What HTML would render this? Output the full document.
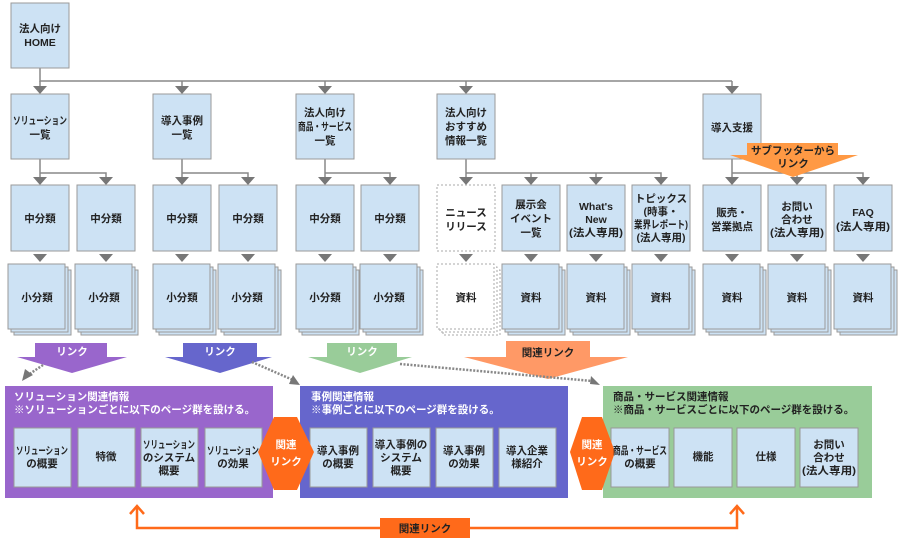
<!DOCTYPE html>
<html><head><meta charset="utf-8"><style>
body{margin:0;background:#fff}
svg text{font-family:"Liberation Sans","Noto Sans CJK JP",sans-serif;font-weight:bold;font-size:10.5px;text-anchor:middle;fill:#222}
</style></head><body>
<svg width="900" height="544" xmlns="http://www.w3.org/2000/svg">
<g stroke="#888" stroke-width="1.5" fill="none">
<path d="M40 68V81H732"/>
<path d="M40 81V86M182 81V86M325 81V86M466 81V86M732 81V86"/>
<path d="M40 159V173H106V177M40 173V177"/>
<path d="M182 159V173H248V177M182 173V177"/>
<path d="M325 159V173H390V177M325 173V177"/>
<path d="M466 159V173H661V177M466 173V177M531 173V177M596 173V177"/>
<path d="M732 159V173H863V177M732 173V177M797 173V177"/>
</g>
<g fill="#777">
<path d="M33 86h14l-7 8z M175 86h14l-7 8z M318 86h14l-7 8z M459 86h14l-7 8z M725 86h14l-7 8z"/>
<path d="M33 177h14l-7 8z M99 177h14l-7 8z M175 177h14l-7 8z M241 177h14l-7 8z M318 177h14l-7 8z M383 177h14l-7 8z M459 177h14l-7 8z M524 177h14l-7 8z M589 177h14l-7 8z M654 177h14l-7 8z M725 177h14l-7 8z M790 177h14l-7 8z M856 177h14l-7 8z"/>
<path d="M33 254h14l-7 8z M99 254h14l-7 8z M175 254h14l-7 8z M241 254h14l-7 8z M318 254h14l-7 8z M383 254h14l-7 8z M459 254h14l-7 8z M524 254h14l-7 8z M589 254h14l-7 8z M654 254h14l-7 8z M725 254h14l-7 8z M790 254h14l-7 8z M856 254h14l-7 8z"/>
</g>
<g fill="#cde2f4" stroke="#9a9a9a" stroke-width="1">
<rect x="11" y="3" width="58" height="65"/>
<rect x="11" y="94" width="58" height="65"/><rect x="153" y="94" width="58" height="65"/><rect x="296" y="94" width="58" height="65"/><rect x="437" y="94" width="58" height="65"/><rect x="703" y="94" width="58" height="65"/>
<rect x="11" y="185" width="58" height="66"/><rect x="77" y="185" width="58" height="66"/><rect x="153" y="185" width="58" height="66"/><rect x="219" y="185" width="58" height="66"/><rect x="296" y="185" width="58" height="66"/><rect x="361" y="185" width="58" height="66"/>
<rect x="502" y="185" width="58" height="66"/><rect x="567" y="185" width="58" height="66"/><rect x="632" y="185" width="58" height="66"/><rect x="703" y="185" width="58" height="66"/><rect x="768" y="185" width="58" height="66"/><rect x="834" y="185" width="58" height="66"/>
</g>
<g fill="#cde2f4" stroke="#9a9a9a" stroke-width="1">
<g id="st"><rect x="14" y="270" width="57" height="65"/><rect x="11" y="267" width="57" height="65"/><rect x="8" y="264" width="57" height="65"/></g>
<use href="#st" x="67"/><use href="#st" x="145"/><use href="#st" x="210"/><use href="#st" x="288"/><use href="#st" x="352"/>
<use href="#st" x="494"/><use href="#st" x="559"/><use href="#st" x="624"/><use href="#st" x="695"/><use href="#st" x="760"/><use href="#st" x="826"/>
</g>
<g fill="#fff" stroke="#aaa" stroke-dasharray="2,2">
<rect x="437" y="185" width="58" height="66"/>
<rect x="443" y="270" width="57" height="65"/><rect x="440" y="267" width="57" height="65"/><rect x="437" y="264" width="57" height="65"/>
</g>
<text x="40" y="32">法人向け</text><text x="40" y="46" font-size="11">HOME</text>
<text x="40" y="124" textLength="54" lengthAdjust="spacingAndGlyphs">ソリューション</text><text x="40" y="138">一覧</text>
<text x="182" y="124">導入事例</text><text x="182" y="138">一覧</text>
<text x="325" y="116">法人向け</text><text x="325" y="130" textLength="54" lengthAdjust="spacingAndGlyphs">商品・サービス</text><text x="325" y="144">一覧</text>
<text x="466" y="116">法人向け</text><text x="466" y="130">おすすめ</text><text x="466" y="144">情報一覧</text>
<text x="732" y="131">導入支援</text>
<g><text x="40" y="222">中分類</text><text x="106" y="222">中分類</text><text x="182" y="222">中分類</text><text x="248" y="222">中分類</text><text x="325" y="222">中分類</text><text x="390" y="222">中分類</text></g>
<text x="466" y="216">ニュース</text><text x="466" y="230">リリース</text>
<text x="531" y="208">展示会</text><text x="531" y="222">イベント</text><text x="531" y="236">一覧</text>
<text x="596" y="210">What's</text><text x="596" y="223">New</text><text x="596" y="236" textLength="54" lengthAdjust="spacingAndGlyphs">(法人専用)</text>
<text x="661" y="202">トピックス</text><text x="661" y="215" font-size="9">(時事・</text><text x="661" y="228" font-size="9" textLength="54" lengthAdjust="spacingAndGlyphs">業界レポート)</text><text x="661" y="241" font-size="9">(法人専用)</text>
<text x="732" y="216">販売・</text><text x="732" y="230">営業拠点</text>
<text x="797" y="210">お問い</text><text x="797" y="223">合わせ</text><text x="797" y="236" textLength="54" lengthAdjust="spacingAndGlyphs">(法人専用)</text>
<text x="863" y="216">FAQ</text><text x="863" y="230" textLength="54" lengthAdjust="spacingAndGlyphs">(法人専用)</text>
<g><text x="37" y="301">小分類</text><text x="104" y="301">小分類</text><text x="182" y="301">小分類</text><text x="247" y="301">小分類</text><text x="325" y="301">小分類</text><text x="389" y="301">小分類</text>
<text x="466" y="301">資料</text><text x="531" y="301">資料</text><text x="596" y="301">資料</text><text x="661" y="301">資料</text><text x="732" y="301">資料</text><text x="797" y="301">資料</text><text x="863" y="301">資料</text></g>
<path d="M747 143h91v12h20l-65 22l-63-22h17z" fill="#ff9944"/>
<text x="793" y="154" font-size="10">サブフッターから</text><text x="793" y="167" font-size="10">リンク</text>
<path d="M35 343h72v14h20l-55 16l-55-16h18z" fill="#9966cc"/>
<path d="M183 343h74v14h15l-52 16l-55-16h18z" fill="#6666cc"/>
<path d="M327 343h70v14h15l-52 16l-52-16h19z" fill="#99cc99"/>
<path d="M506 341h84v16h38l-80 22l-84-22h42z" fill="#ff9966"/>
<text x="72" y="355" style="fill:#fff">リンク</text><text x="220" y="355" style="fill:#fff">リンク</text><text x="362" y="355" style="fill:#fff">リンク</text><text x="548" y="356">関連リンク</text>
<g stroke="#888" stroke-width="2.5" stroke-dasharray="2,1.5" fill="none">
<path d="M43 365L28 375"/><path d="M252 362L293 380"/><path d="M400 364L592 381"/>
</g>
<path d="M22 381l3-12 8 6z" fill="#777"/><path d="M300 385l-11-1 4-9z" fill="#777"/><path d="M600 385l-9-9-1 8z" fill="#777"/>
<rect x="5" y="386" width="268" height="112" fill="#9966cc"/>
<rect x="300" y="386" width="268" height="112" fill="#6666cc"/>
<rect x="603" y="386" width="269" height="112" fill="#99cc99"/>
<g font-size="10">
<text x="14" y="400" style="text-anchor:start;fill:#fff">ソリューション関連情報</text><text x="14" y="413" style="text-anchor:start;fill:#fff">※ソリューションごとに以下のページ群を設ける。</text>
<text x="311" y="400" style="text-anchor:start;fill:#fff">事例関連情報</text><text x="311" y="413" style="text-anchor:start;fill:#fff">※事例ごとに以下のページ群を設ける。</text>
<text x="613" y="400" style="text-anchor:start">商品・サービス関連情報</text><text x="613" y="413" style="text-anchor:start">※商品・サービスごとに以下のページ群を設ける。</text>
</g>
<g fill="#cde2f4" stroke="#999">
<rect x="14" y="428" width="57" height="59"/><rect x="78" y="428" width="57" height="59"/><rect x="141" y="428" width="57" height="59"/><rect x="205" y="428" width="57" height="59"/>
<rect x="310" y="428" width="57" height="59"/><rect x="373" y="428" width="57" height="59"/><rect x="436" y="428" width="57" height="59"/><rect x="499" y="428" width="57" height="59"/>
<rect x="611" y="428" width="58" height="59"/><rect x="674" y="428" width="58" height="59"/><rect x="737" y="428" width="58" height="59"/><rect x="800" y="428" width="58" height="59"/>
</g>
<path d="M258 452L274 417H297L314 452L297 490H274Z" fill="#ff6a1a"/>
<path d="M570 452L582 417H602L615 452L602 490H582Z" fill="#ff6a1a"/>
<text x="286" y="448" style="fill:#fff">関連</text><text x="286" y="465" style="fill:#fff">リンク</text>
<text x="592" y="448" style="fill:#fff">関連</text><text x="592" y="465" style="fill:#fff">リンク</text>
<g font-size="10">
<text x="42" y="454" textLength="52" lengthAdjust="spacingAndGlyphs">ソリューション</text><text x="42" y="467">の概要</text>
<text x="106" y="460">特徴</text>
<text x="169" y="448" textLength="52" lengthAdjust="spacingAndGlyphs">ソリューション</text><text x="169" y="461">のシステム</text><text x="169" y="474">概要</text>
<text x="233" y="454" textLength="52" lengthAdjust="spacingAndGlyphs">ソリューション</text><text x="233" y="467">の効果</text>
<text x="338" y="454">導入事例</text><text x="338" y="467">の概要</text>
<text x="401" y="448">導入事例の</text><text x="401" y="461">システム</text><text x="401" y="474">概要</text>
<text x="464" y="454">導入事例</text><text x="464" y="467">の効果</text>
<text x="527" y="454">導入企業</text><text x="527" y="467">様紹介</text>
<text x="640" y="454" textLength="54" lengthAdjust="spacingAndGlyphs">商品・サービス</text><text x="640" y="467">の概要</text>
<text x="703" y="460">機能</text><text x="766" y="460">仕様</text>
<text x="829" y="448">お問い</text><text x="829" y="461">合わせ</text><text x="829" y="474" textLength="54" lengthAdjust="spacingAndGlyphs">(法人専用)</text>
</g>
<g stroke="#ff6a1a" stroke-width="2.5" fill="none">
<path d="M137 507V528H737V507"/><path d="M130 514L137 506L144 514M730 514L737 506L744 514"/>
</g>
<rect x="380" y="518" width="90" height="20" fill="#ff6a1a"/>
<text x="425" y="532">関連リンク</text>
</svg>
</body></html>
